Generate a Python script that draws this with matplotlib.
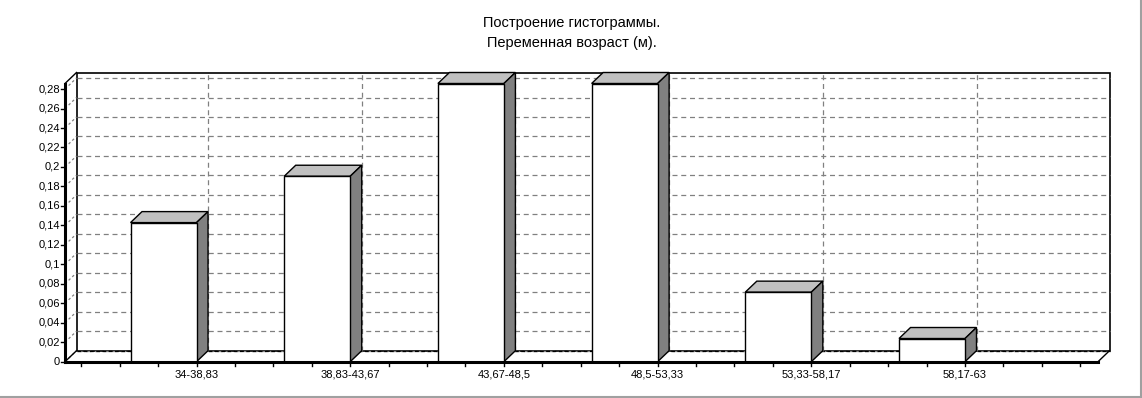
import matplotlib
matplotlib.use("Agg")
import matplotlib.pyplot as plt
from matplotlib.patches import Polygon, Rectangle
import numpy as np

plt.rcParams['font.family'] = ['Liberation Sans', 'DejaVu Sans']

# histogram data
categories = ['34-38,83', '38,83-43,67', '43,67-48,5', '48,5-53,33', '53,33-58,17', '58,17-63']
freqs = [6/42, 8/42, 12/42, 12/42, 3/42, 1/42]
yticks = [0, 0.02, 0.04, 0.06, 0.08, 0.1, 0.12, 0.14, 0.16, 0.18, 0.2, 0.22, 0.24, 0.26, 0.28]
ytick_labels = ['0', '0,02', '0,04', '0,06', '0,08', '0,1', '0,12', '0,14', '0,16', '0,18',
                '0,2', '0,22', '0,24', '0,26', '0,28']

W, H = 1142, 398
fig = plt.figure(figsize=(W / 100, H / 100), dpi=100)

# front plane in pixels
x0p, x1p = 65, 1098
y0p, y1p = 361.7, 83.5
ax = fig.add_axes([x0p / W, 1 - y0p / H, (x1p - x0p) / W, (y0p - y1p) / H])

xl, xr = -0.641, 6.08
ymax = max(freqs)
ax.set_xlim(xl, xr)
ax.set_ylim(0, ymax)
ax.axis('off')

px_x = (x1p - x0p) / (xr - xl)
px_y = (y0p - y1p) / ymax
ddx = 11.5 / px_x      # depth offset
ddy = 11.0 / px_y
bw = 66 / px_x         # bar width
grid_c = '#808080'

# back wall
ax.add_patch(Rectangle((xl + ddx, ddy), xr - xl, ymax, facecolor='white',
                       edgecolor='black', lw=1.2, clip_on=False, zorder=1))
# horizontal grid lines + diagonal side-wall lines + y ticks
for t, lab in zip(yticks, ytick_labels):
    ax.plot([xl + ddx, xr + ddx], [t + ddy, t + ddy], ls=(0, (4, 3)), color=grid_c,
            lw=0.9, clip_on=False, zorder=2)
    ax.plot([xl, xl + ddx], [t, t + ddy], ls=(0, (2, 2)), color=grid_c, lw=0.9,
            clip_on=False, zorder=2)
    ax.plot([xl - 3.5 / px_x, xl], [t, t], color='black', lw=1, clip_on=False, zorder=5)
    ax.text(xl - 5 / px_x, t, lab, ha='right', va='center', fontsize=8, zorder=5)
# floor back edge dashed
ax.plot([xl + ddx, xr + ddx], [ddy, ddy], ls=(0, (3, 2)), color='black', lw=0.9,
        clip_on=False, zorder=2)

# vertical grid lines on back wall
edge_pos = [i + bw / 2 for i in range(len(categories))]
for e in edge_pos:
    ax.plot([e + ddx, e + ddx], [ddy, ymax + ddy], ls=(0, (4, 3)), color=grid_c,
            lw=0.9, clip_on=False, zorder=2)

# left wall top edge and floor edges
ax.plot([xl, xl + ddx], [ymax, ymax + ddy], color='black', lw=1, clip_on=False, zorder=3)
ax.plot([xl, xl + ddx], [0, ddy], color='black', lw=1, clip_on=False, zorder=3)
ax.plot([xr, xr + ddx], [0, ddy], color='black', lw=1, clip_on=False, zorder=3)

# bars
for i, v in enumerate(freqs):
    xa, xb = i - bw / 2, i + bw / 2
    ax.add_patch(Polygon([(xa, v), (xa + ddx, v + ddy), (xb + ddx, v + ddy), (xb, v)],
                         closed=True, facecolor='#c0c0c0', edgecolor='black', lw=1,
                         clip_on=False, zorder=4))
    ax.add_patch(Polygon([(xb, 0), (xb + ddx, ddy), (xb + ddx, v + ddy), (xb, v)],
                         closed=True, facecolor='#808080', edgecolor='black', lw=1,
                         clip_on=False, zorder=4))
    ax.add_patch(Rectangle((xa, 0), bw, v, facecolor='white', edgecolor='black', lw=1,
                           clip_on=False, zorder=4))

# front axes lines
ax.plot([xl, xr], [0, 0], color='black', lw=2.2, clip_on=False, zorder=6)
ax.plot([xl, xl], [0, ymax], color='black', lw=2.2, clip_on=False, zorder=6)

# x ticks (every quarter slot)
tick_x = np.arange(edge_pos[0] - 3 * 0.25, xr, 0.25)
for tx in tick_x:
    ax.plot([tx, tx], [0, -4 / px_y], color='black', lw=1, clip_on=False, zorder=6)
for e, lab in zip(edge_pos, categories):
    ax.text(e, -13 / px_y, lab, ha='center', va='center', fontsize=8)

fig.text(572 / W, 1 - 23 / H, 'Построение гистограммы.', ha='center', va='center', fontsize=10.5)
fig.text(572 / W, 1 - 43 / H, 'Переменная возраст (м).', ha='center', va='center', fontsize=10.5)

# light frame on right / bottom
fig.add_artist(plt.Line2D([0, 1 - 1.5 / W], [1.5 / H, 1.5 / H], color='#a0a0a0', lw=1.5,
                          transform=fig.transFigure))
fig.add_artist(plt.Line2D([1 - 1.5 / W, 1 - 1.5 / W], [0, 1], color='#a0a0a0', lw=1.5,
                          transform=fig.transFigure))

fig.savefig('out.png', dpi=100)
